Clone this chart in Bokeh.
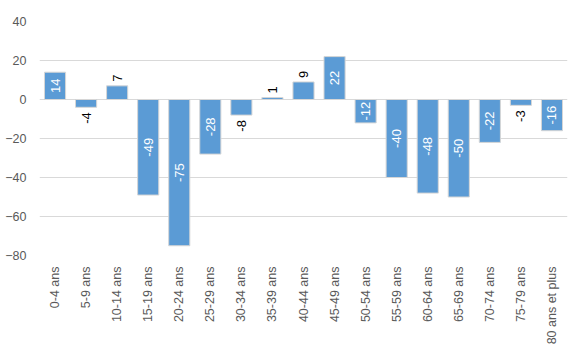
import math
from bokeh.plotting import figure
from bokeh.models import FixedTicker, Range1d, FactorRange, ColumnDataSource
from bokeh.core.properties import value
from bokeh.embed import file_html
from bokeh.resources import INLINE

categories = ["0-4 ans", "5-9 ans", "10-14 ans", "15-19 ans", "20-24 ans", "25-29 ans",
              "30-34 ans", "35-39 ans", "40-44 ans", "45-49 ans", "50-54 ans", "55-59 ans",
              "60-64 ans", "65-69 ans", "70-74 ans", "75-79 ans", "80 ans et plus"]
values = [14, -4, 7, -49, -75, -28, -8, 1, 9, 22, -12, -40, -48, -50, -22, -3, -16]
y_ticks = [-80, -60, -40, -20, 0, 20, 40]

FONT = "Liberation Sans"

p = figure(x_range=FactorRange(*categories, range_padding=0),
           y_range=Range1d(-80, 40),
           frame_width=528, frame_height=234,
           min_border_left=39, min_border_right=3,
           min_border_top=21, min_border_bottom=84,
           output_backend="svg", toolbar_location=None)

p.outline_line_color = None
p.background_fill_color = "white"
p.border_fill_color = "white"

p.vbar(x=categories, top=values, bottom=0, width=0.68,
       fill_color="#5B9BD5", line_color="#D6D6D6", line_width=1)

# axes
p.yaxis.ticker = FixedTicker(ticks=y_ticks)
p.yaxis.axis_line_color = None
p.yaxis.major_tick_line_color = None
p.yaxis.minor_tick_line_color = None
p.yaxis.major_tick_out = 0
p.yaxis.major_tick_in = 0
p.yaxis.major_label_standoff = 13
p.yaxis.major_label_text_font = FONT
p.yaxis.major_label_text_font_size = "12.5px"
p.yaxis.major_label_text_color = "#595959"

p.xaxis.axis_line_color = None
p.xaxis.major_tick_line_color = None
p.xaxis.minor_tick_line_color = None
p.xaxis.major_tick_out = 0
p.xaxis.major_tick_in = 0
p.xaxis.major_label_orientation = math.pi / 2
p.xaxis.major_label_standoff = 11
p.xaxis.major_label_text_font = FONT
p.xaxis.major_label_text_font_size = "12.5px"
p.xaxis.major_label_text_color = "#595959"

p.xgrid.grid_line_color = None
p.ygrid.ticker = FixedTicker(ticks=y_ticks)
p.ygrid.grid_line_color = "#D9D9D9"
p.ygrid.grid_line_width = 1

# data labels
inside = dict(x=[], y=[], t=[])
out_pos = dict(x=[], y=[], t=[])
out_neg = dict(x=[], y=[], t=[])
for c, v in zip(categories, values):
    if abs(v) >= 10:
        inside["x"].append(c); inside["y"].append(v / 2); inside["t"].append(str(v))
    elif v >= 0:
        out_pos["x"].append(c); out_pos["y"].append(v); out_pos["t"].append(str(v))
    else:
        out_neg["x"].append(c); out_neg["y"].append(v); out_neg["t"].append(str(v))

common = dict(angle=math.pi / 2, text_font=value(FONT), text_font_size="13px",
              text_baseline="middle")
p.text(x="x", y="y", text="t", source=ColumnDataSource(inside),
       text_align="center", text_color="white", **common)
p.text(x="x", y="y", text="t", source=ColumnDataSource(out_pos),
       text_align="left", text_color="#000000", y_offset=-4, **common)
p.text(x="x", y="y", text="t", source=ColumnDataSource(out_neg),
       text_align="right", text_color="#000000", y_offset=5, **common)

open("out.html", "w").write(file_html(p, INLINE))
